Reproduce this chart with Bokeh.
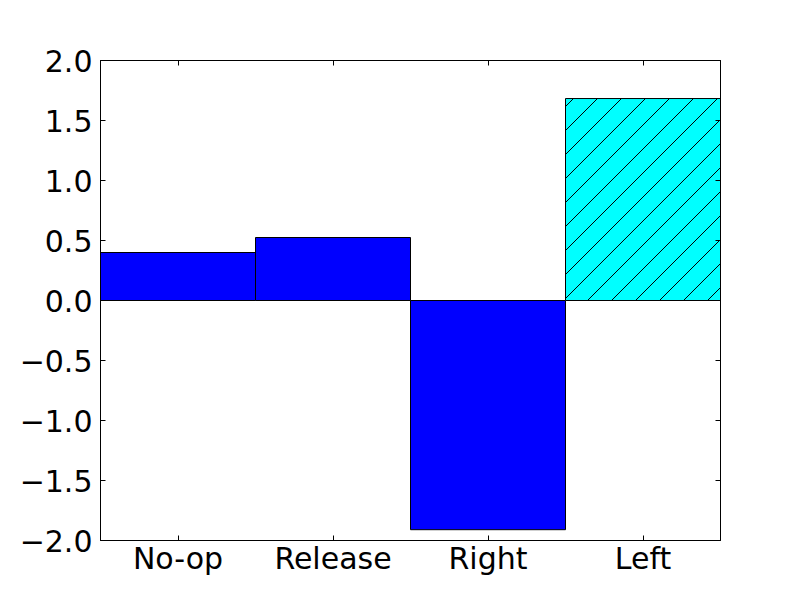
import base64
from bokeh.plotting import figure
from bokeh.models import FactorRange, Range1d, LinearAxis, CategoricalAxis, ColumnDataSource, FixedTicker, ImageURLTexture
from bokeh.embed import file_html
from bokeh.resources import INLINE

categories = ["No-op", "Release", "Right", "Left"]
values = [0.40, 0.525, -1.91, 1.683]
fill_colors = ["#0000ff", "#0000ff", "#0000ff", "#00ffff"]
hatches = [" ", " ", " ", "diag45"]
y_ticks = [-2.0, -1.5, -1.0, -0.5, 0.0, 0.5, 1.0, 1.5, 2.0]

FONT = "DejaVu Sans"
FS = "30px"

src = ColumnDataSource(dict(x=categories, top=values, color=fill_colors, hatch=hatches))

p = figure(width=800, height=600, output_backend="svg", toolbar_location=None,
           x_range=FactorRange(factors=categories, range_padding=0),
           y_range=Range1d(-2, 2),
           min_border_left=100, min_border_right=80, min_border_top=60, min_border_bottom=60)
p.xgrid.visible = False
p.ygrid.visible = False
p.outline_line_color = "black"
p.outline_line_width = 1
p.background_fill_color = "white"
p.border_fill_color = "white"

tile = ("<svg xmlns='http://www.w3.org/2000/svg' width='24' height='24'>"
        "<path d='M0 24 L24 0 M-2 2 L2 -2 M22 26 L26 22' stroke='black' stroke-width='1' fill='none'/>"
        "</svg>")
tile_url = "data:image/svg+xml;base64," + base64.b64encode(tile.encode()).decode()

p.vbar(x="x", top="top", bottom=0, width=1.0, source=src, fill_color="color",
       line_color="black", line_width=1, hatch_pattern="hatch", hatch_color="black",
       hatch_scale=24, hatch_weight=1,
       hatch_extra={"diag45": ImageURLTexture(url=tile_url, repetition="repeat")})

overrides = {t: (f"{t:.1f}".replace("-", "\u2212")) for t in y_ticks}

def style(ax, labels=True):
    ax.major_tick_in = 5
    ax.major_tick_out = 0
    ax.minor_tick_in = 0
    ax.minor_tick_out = 0
    ax.axis_line_color = "black"
    ax.major_tick_line_color = "black"
    ax.major_label_text_font = FONT
    ax.major_label_text_font_size = FS
    ax.major_label_text_color = "black"
    if not labels:
        ax.major_label_text_font_size = "0px"
        ax.major_label_text_alpha = 0

yl = p.yaxis[0]
yl.ticker = FixedTicker(ticks=y_ticks)
yl.major_label_overrides = overrides
yl.major_label_standoff = 8
style(yl)

xb = p.xaxis[0]
xb.major_label_standoff = 0
style(xb)

yr = LinearAxis(ticker=FixedTicker(ticks=y_ticks))
style(yr, labels=False)
p.add_layout(yr, "right")

xt = CategoricalAxis()
style(xt, labels=False)
p.add_layout(xt, "above")

open("out.html", "w").write(file_html(p, INLINE))
